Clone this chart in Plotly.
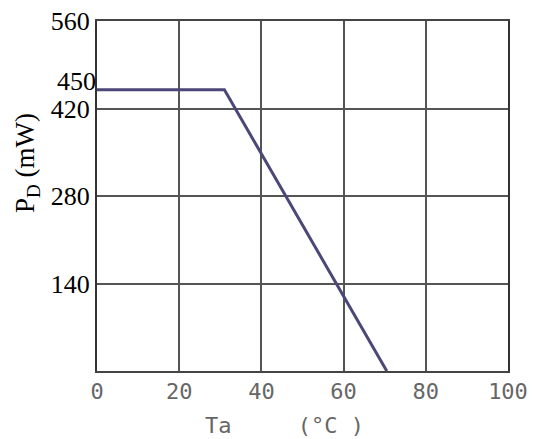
import plotly.graph_objects as go

# Data
ta = [0, 31, 70.5]
pd_mw = [450, 450, 0]
x_ticks = [0, 20, 40, 60, 80, 100]
y_grid_ticks = [140, 280, 420, 560]
y_extra_tick = [450]

fig = go.Figure()
fig.add_trace(go.Scatter(x=ta, y=pd_mw, mode="lines",
                         line=dict(color="#4b4878", width=3), showlegend=False))
# invisible copy to anchor the secondary label axis
fig.add_trace(go.Scatter(x=ta, y=pd_mw, mode="lines", yaxis="y2",
                         line=dict(color="rgba(0,0,0,0)", width=0),
                         showlegend=False, hoverinfo="skip"))

fig.update_layout(
    width=529, height=431,
    margin=dict(l=89, r=29, t=13, b=68, autoexpand=False),
    paper_bgcolor="white", plot_bgcolor="white",
    xaxis=dict(range=[0, 100], tickvals=x_ticks, showgrid=True, automargin=False,
               ticklabeloverflow="allow",
               gridcolor="#555", gridwidth=1.5, zeroline=False,
               showline=True, linecolor="#444", linewidth=1.5, mirror=True,
               ticks="", ticklen=0,
               tickfont=dict(family="DejaVu Sans Mono", size=22, color="#666")),
    yaxis=dict(range=[0, 560], tickvals=y_grid_ticks, showgrid=True, automargin=False,
               ticklabeloverflow="allow",
               gridcolor="#555", gridwidth=1.5, zeroline=False,
               showline=True, linecolor="#333", linewidth=2, mirror=True,
               ticks="", ticklen=0,
               tickfont=dict(family="Liberation Serif", size=26, color="black")),
    yaxis2=dict(range=[0, 560], tickvals=y_extra_tick, overlaying="y", side="left",
                automargin=False, ticklabelshift=-9, ticklabeloverflow="allow",
                showgrid=False, zeroline=False, showline=False, ticks="", ticklen=0,
                tickfont=dict(family="Liberation Serif", size=26, color="black")),
    annotations=[
        dict(text="P<sub>D</sub> (mW)", xref="paper", yref="paper",
             x=(27 - 97) / 411, y=(371 - 163) / 350, textangle=-90,
             xanchor="center", yanchor="middle", showarrow=False,
             font=dict(family="Liberation Serif", size=27, color="black")),
        dict(text="Ta\u00a0\u00a0\u00a0\u00a0\u00a0(°C\u00a0)", xref="paper", yref="paper",
             x=0.457, y=-0.157, xanchor="center", yanchor="middle", showarrow=False,
             font=dict(family="DejaVu Sans Mono", size=22, color="#666")),
    ],
)

fig.write_html("out.html")
